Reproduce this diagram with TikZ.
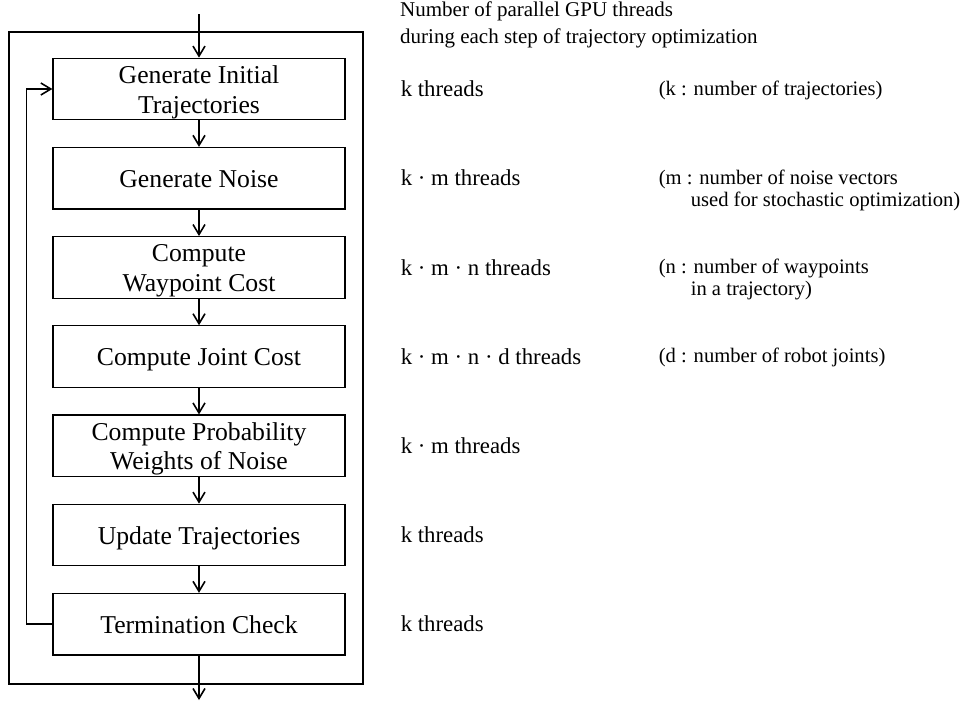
\documentclass[tikz,border=0pt]{standalone}
\usepackage{fontspec}
\setmainfont{Liberation Serif}
\usetikzlibrary{arrows.meta,positioning}
\newcommand{\boxstrut}{\rule[-5.5pt]{0pt}{29.5pt}}

\begin{document}
\begin{tikzpicture}[x=1pt,y=1pt,
	stepbox/.style={draw=black, line width=1.2pt, minimum width=292pt, minimum height=61.5pt,
		inner sep=0pt, align=center, font=\fontsize{25.7}{29.6}\selectfont,
		execute at begin node={\boxstrut}, execute at end node={\boxstrut}},
	flow/.style={draw=black, line width=1.6pt, -{Straight Barb[length=10pt,width=12pt]}},
	threads/.style={anchor=base west, inner sep=0pt, font=\fontsize{22.8}{26}\selectfont},
	note/.style={anchor=base west, inner sep=0pt, align=left, font=\fontsize{20.6}{22}\selectfont},
	node distance=26.5pt]
		\useasboundingbox (0,0) rectangle (963,-704);
		\node[anchor=base west, inner sep=0pt, align=left, font=\fontsize{21}{26.6}\selectfont] (head) at (400,-43.3)
			{Number of parallel GPU threads\\during each step of trajectory optimization};
		\draw[draw=black, line width=1.2pt] (9,-32) rectangle (363,-684);
		\node[stepbox] (init) at (199,-89) {\boxstrut Generate Initial\\Trajectories\boxstrut};
		\node[stepbox, below=of init] (noise) {Generate Noise};
		\node[stepbox, below=of noise] (wpcost) {\boxstrut Compute\\Waypoint Cost\boxstrut};
		\node[stepbox, below=of wpcost] (jcost) {Compute Joint Cost};
		\node[stepbox, below=of jcost] (weights) {\boxstrut Compute Probability\\Weights of Noise\boxstrut};
		\node[stepbox, below=of weights] (update) {Update Trajectories};
		\node[stepbox, below=of update] (term) {Termination Check};
		\node[threads] (tinit) at ([xshift=55pt,yshift=-7.7pt]init.east) {k threads};
		\node[threads] (tnoise) at ([xshift=55pt,yshift=-7.7pt]noise.east) {k · m threads};
		\node[threads] (twpcost) at ([xshift=55pt,yshift=-7.7pt]wpcost.east) {k · m · n threads};
		\node[threads] (tjcost) at ([xshift=55pt,yshift=-7.7pt]jcost.east) {k · m · n · d threads};
		\node[threads] (tweights) at ([xshift=55pt,yshift=-7.7pt]weights.east) {k · m threads};
		\node[threads] (tupdate) at ([xshift=55pt,yshift=-7.7pt]update.east) {k threads};
		\node[threads] (tterm) at ([xshift=55pt,yshift=-7.7pt]term.east) {k threads};
		\node[note] (nk) at ([xshift=313pt,yshift=-6pt]init.east) {(k : number of trajectories)};
		\node[note] (nm) at ([xshift=313pt,yshift=-28pt]noise.east)
			{(m : number of noise vectors\\\hspace*{32pt}used for stochastic optimization)};
		\node[note] (nn) at ([xshift=313pt,yshift=-28pt]wpcost.east)
			{(n : number of waypoints\\\hspace*{32pt}in a trajectory)};
		\node[note] (nd) at ([xshift=313pt,yshift=-6pt]jcost.east) {(d : number of robot joints)};
		\coordinate (entry) at (199,-14);
		\coordinate (exit) at (199,-700);
		\draw[flow] (entry) -- (init);
		\foreach \a/\b in {init/noise, noise/wpcost, wpcost/jcost, jcost/weights, weights/update, update/term}
			\draw[flow] (\a) -- (\b);
		\draw[flow] (term) -- (exit);
		\draw[flow] (term.west) -- ++(-26,0) |- (init.west);
	\end{tikzpicture}
\end{document}
